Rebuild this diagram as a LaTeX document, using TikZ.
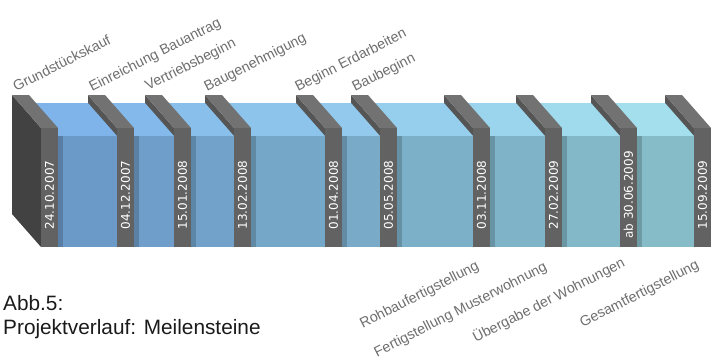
\documentclass[tikz,border=0pt]{standalone}
\usepackage{fontspec}
\setmainfont{Liberation Sans}
\newfontfamily\datefont{DejaVu Sans}
\definecolor{platetop}{RGB}{114,114,114}
\definecolor{plateside}{RGB}{85,85,85}
\definecolor{platesidefirst}{RGB}{66,66,66}
\definecolor{platefront}{RGB}{98,98,98}
\definecolor{boxtopL}{RGB}{127,180,234}
\definecolor{boxtopR}{RGB}{164,223,238}
\definecolor{boxfrontL}{RGB}{107,154,201}
\definecolor{boxfrontR}{RGB}{134,188,200}
\definecolor{labelgray}{RGB}{110,110,110}
\definecolor{captiontext}{RGB}{26,26,26}
\begin{document}
\begin{tikzpicture}[x=1pt,y=-1pt,
  toplbl/.style={text=labelgray, font=\fontsize{14.3}{15}\selectfont, rotate=27, inner sep=0pt, anchor=base west},
  botlbl/.style={text=labelgray, font=\fontsize{14.3}{15}\selectfont, rotate=27, inner sep=0pt, anchor=base east},
  datelbl/.style={text=white, font=\datefont\fontsize{12}{13}\selectfont, rotate=90, inner sep=0pt, anchor=center},
  caption/.style={text=captiontext, font=\fontsize{20.8}{24}\selectfont, inner sep=0pt, anchor=base west}]
\useasboundingbox (0,0) rectangle (714,359);
\def\Ls{{41,117,174,234,325,380,473,545,620,694}}
\foreach \i in {10,9,...,1}{
  \pgfmathtruncatemacro\L{\Ls[\i-1]}
  \pgfmathtruncatemacro\R{\L+17}
  \ifnum\i=1 \colorlet{sidec}{platesidefirst}\else \colorlet{sidec}{plateside}\fi
  % plate: side, top, front
  \fill[sidec] (\L,128) -- (\L,247) -- (\L-29,214) -- (\L-29,95) -- cycle;
  \fill[platetop] (\L,128) -- (\R,128) -- (\R-29,95) -- (\L-29,95) -- cycle;
  \fill[platefront] (\L,128) rectangle (\R,247);
  \ifnum\i>1
    \pgfmathtruncatemacro\a{\Ls[\i-2]+17}
    \pgfmathtruncatemacro\p{100-(\i-2)*100/8}
    \colorlet{bt}{boxtopL!\p!boxtopR}
    \colorlet{bf}{boxfrontL!\p!boxfrontR}
    \fill[bt] (\a,136) -- (\L,136) -- (\L-29,103) -- (\a-29,103) -- cycle;
    \fill[bf] (\a,136) rectangle (\L,247);
    \fill[bf!82!black] (\a,136) rectangle (\a+5,247);
  \fi
}
% dates
\node[datelbl] (d1) at (49.5,195) {24.10.2007};
\node[datelbl] (d2) at (125.5,195) {04.12.2007};
\node[datelbl] (d3) at (182.5,195) {15.01.2008};
\node[datelbl] (d4) at (242.5,195) {13.02.2008};
\node[datelbl] (d5) at (333.5,195) {01.04.2008};
\node[datelbl] (d6) at (388.5,195) {05.05.2008};
\node[datelbl] (d7) at (481.5,195) {03.11.2008};
\node[datelbl] (d8) at (553.5,195) {27.02.2009};
\node[datelbl] (d9) at (628.5,195) {ab 30.06.2009};
\node[datelbl] (d10) at (702.5,195) {15.09.2009};
% top labels
\node[toplbl] (t1) at (16,92) {Grundstückskauf};
\node[toplbl] (t2) at (92,92) {Einreichung Bauantrag};
\node[toplbl] (t3) at (148,91) {Vertriebsbeginn};
\node[toplbl] (t4) at (207,92) {Baugenehmigung};
\node[toplbl] (t5) at (298,92) {Beginn Erdarbeiten};
\node[toplbl] (t6) at (355,92) {Baubeginn};
% bottom labels
\node[botlbl] (b1) at (480,269) {Rohbaufertigstellung};
\node[botlbl] (b2) at (548,270) {Fertigstellung Musterwohnung};
\node[botlbl] (b3) at (626,266) {Übergabe der Wohnungen};
\node[botlbl] (b4) at (700,268) {Gesamtfertigstellung};
% caption
\node[caption] (c1) at (3,310) {Abb.5:};
\node[caption] (c2) at (3,334) {Projektverlauf: Meilensteine};
\end{tikzpicture}
\end{document}
